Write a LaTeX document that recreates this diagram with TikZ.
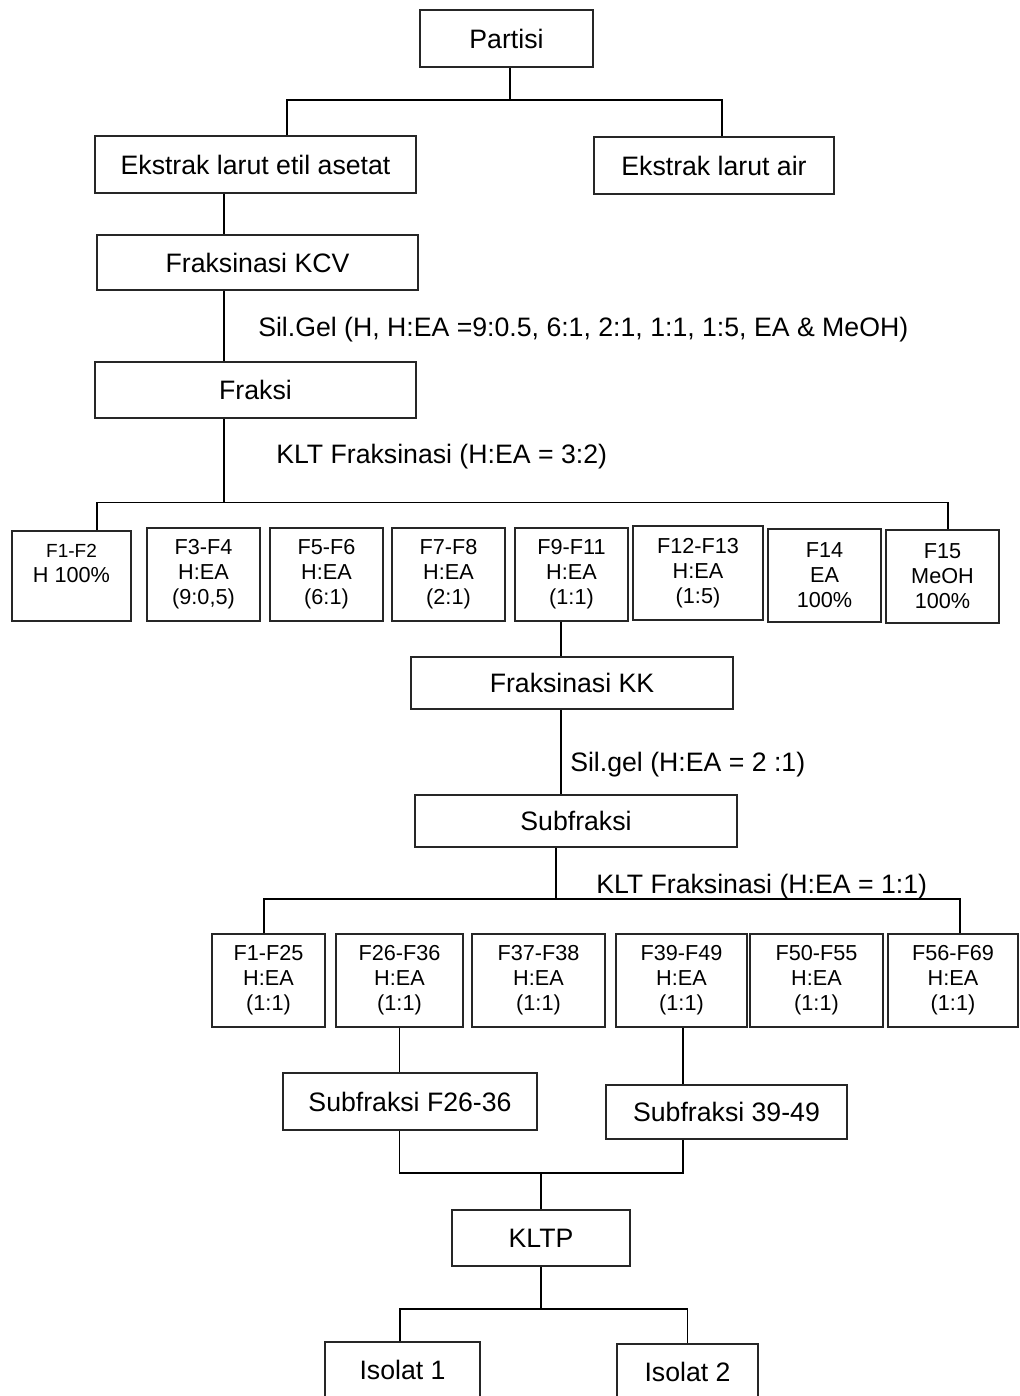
\documentclass[tikz,border=0pt]{standalone}
\usepackage{fontspec}
\setmainfont{Liberation Sans}
\usetikzlibrary{calc}
\tikzset{
	kotak/.style 2 args={draw, black!85, text=black, line width=0.8pt, inner sep=0pt, align=center,
		minimum width=#1*0.75pt, minimum height=#2*0.75pt, font=\fontsize{20}{24}\selectfont},
	fr/.style 2 args={kotak={#1}{#2}, font=\fontsize{16.25}{18.75}\selectfont},
	ket/.style={anchor=west, inner sep=0pt, font=\fontsize{20}{24}\selectfont},
	garis/.style={line width=1pt}
}

\begin{document}
\begin{tikzpicture}[x=0.75pt, y=-0.75pt]
		\useasboundingbox (0,0) rectangle (1020,1396);
		\node[kotak={173}{57}] (partisi) at (506.5,38.5) {Partisi};
		\node[kotak={321}{57}] (etil) at (255.5,164.5) {Ekstrak larut etil asetat};
		\node[kotak={240}{57}] (air) at (714,165.5) {Ekstrak larut air};
		\node[kotak={321}{55}] (kcv) at (257.5,262.5) {Fraksinasi KCV};
		\node[kotak={321}{56}] (fraksi) at (255.5,390) {Fraksi};
		\node[ket] (silgel) at (258,330) {Sil.Gel (H, H:EA =9:0.5, 6:1, 2:1, 1:1, 1:5, EA \& MeOH)};
		\node[ket] (klt1) at (276,457) {KLT Fraksinasi (H:EA = 3:2)};
		% fraksi hasil KCV
		\node[fr={119}{90}] (f1) at (71.5,576) {{\fontsize{14.25}{18.75}\selectfont F1-F2}\\H 100\%\\\mbox{}};
		\node[fr={113}{93}] (f3) at (203.5,574.5) {F3-F4\\H:EA\\(9:0,5)};
		\node[fr={113}{93}] (f5) at (326.5,574.5) {F5-F6\\H:EA\\(6:1)};
		\node[fr={113}{93}] (f7) at (448.5,574.5) {F7-F8\\H:EA\\(2:1)};
		\node[fr={113}{93}] (f9) at (571.5,574.5) {F9-F11\\H:EA\\(1:1)};
		\node[fr={130}{94}] (f12) at (698,573) {F12-F13\\H:EA\\(1:5)};
		\node[fr={113}{93}] (f14) at (824.5,575.5) {F14\\EA\\100\%};
		\node[fr={113}{93}] (f15) at (942.5,576.5) {F15\\MeOH\\100\%};
		\node[kotak={322}{52}] (kk) at (572,683) {Fraksinasi KK};
		\node[ket] (silgel2) at (570,765) {Sil.gel (H:EA = 2 :1)};
		\node[kotak={322}{52}] (subf) at (576,821) {Subfraksi};
		\node[ket] (klt2) at (596,887) {KLT Fraksinasi (H:EA = 1:1)};
		% subfraksi
		\node[fr={113}{93}] (g1) at (268.5,980.5) {F1-F25\\H:EA\\(1:1)};
		\node[fr={127}{93}] (g26) at (399.5,980.5) {F26-F36\\H:EA\\(1:1)};
		\node[fr={133}{93}] (g37) at (538.5,980.5) {F37-F38\\H:EA\\(1:1)};
		\node[fr={131}{93}] (g39) at (681.5,980.5) {F39-F49\\H:EA\\(1:1)};
		\node[fr={133}{93}] (g50) at (816.5,980.5) {F50-F55\\H:EA\\(1:1)};
		\node[fr={130}{93}] (g56) at (953,980.5) {F56-F69\\H:EA\\(1:1)};
		\node[kotak={254}{57}] (sub26) at (410,1101.5) {Subfraksi F26-36};
		\node[kotak={241}{54}] (sub39) at (726.5,1112) {Subfraksi 39-49};
		\node[kotak={178}{56}] (kltp) at (541,1238) {KLTP};
		\node[kotak={155}{56}] (iso1) at (402.5,1370) {Isolat 1};
		\node[kotak={141}{56}] (iso2) at (687.5,1372) {Isolat 2};

		\coordinate (b1) at (510,100);
		\coordinate (b2) at (224,502.5);
		\coordinate (b3) at (556,899);
		\coordinate (b4) at (541,1173);
		\coordinate (b5) at (541,1309);

		\draw[garis] (b1 |- partisi.south) -- (b1);
		\draw[garis] ($(etil.north)+(31.5,0)$) |- (b1) -| ($(air.north)+(8,0)$);
		\draw[garis] ($(etil.south)+(-31.5,0)$) coordinate (t1) -- (t1 |- kcv.north);
		\draw[garis] ($(kcv.south)+(-33.5,0)$) coordinate (t2) -- (t2 |- fraksi.north);
		\draw[garis] (b2 |- fraksi.south) -- (b2);
		\draw[garis] ($(f1.north)+(25.5,0)$) |- (b2) -| ($(f15.north)+(5.5,0)$);
		\draw[garis] ($(f9.south)+(-10.5,0)$) coordinate (t3) -- (t3 |- kk.north);
		\draw[garis] ($(kk.south)+(-11,0)$) coordinate (t4) -- (t4 |- subf.north);
		\draw[garis] (b3 |- subf.south) -- (b3);
		\draw[garis] ($(g1.north)+(-4.5,0)$) |- (b3) -| ($(g56.north)+(7,0)$);
		\draw[garis] (g26.south) coordinate (t5) -- (t5 |- sub26.north);
		\draw[garis] ($(g39.south)+(1.5,0)$) coordinate (t6) -- (t6 |- sub39.north);
		\draw[garis] (t5 |- sub26.south) |- (b4) -| (t6 |- sub39.south);
		\draw[garis] (b4) -- (kltp.north);
		\draw[garis] (kltp.south) -- (b5);
		\draw[garis] ($(iso1.north)+(-2.5,0)$) |- (b5) -| (iso2.north);
	\end{tikzpicture}
\end{document}
